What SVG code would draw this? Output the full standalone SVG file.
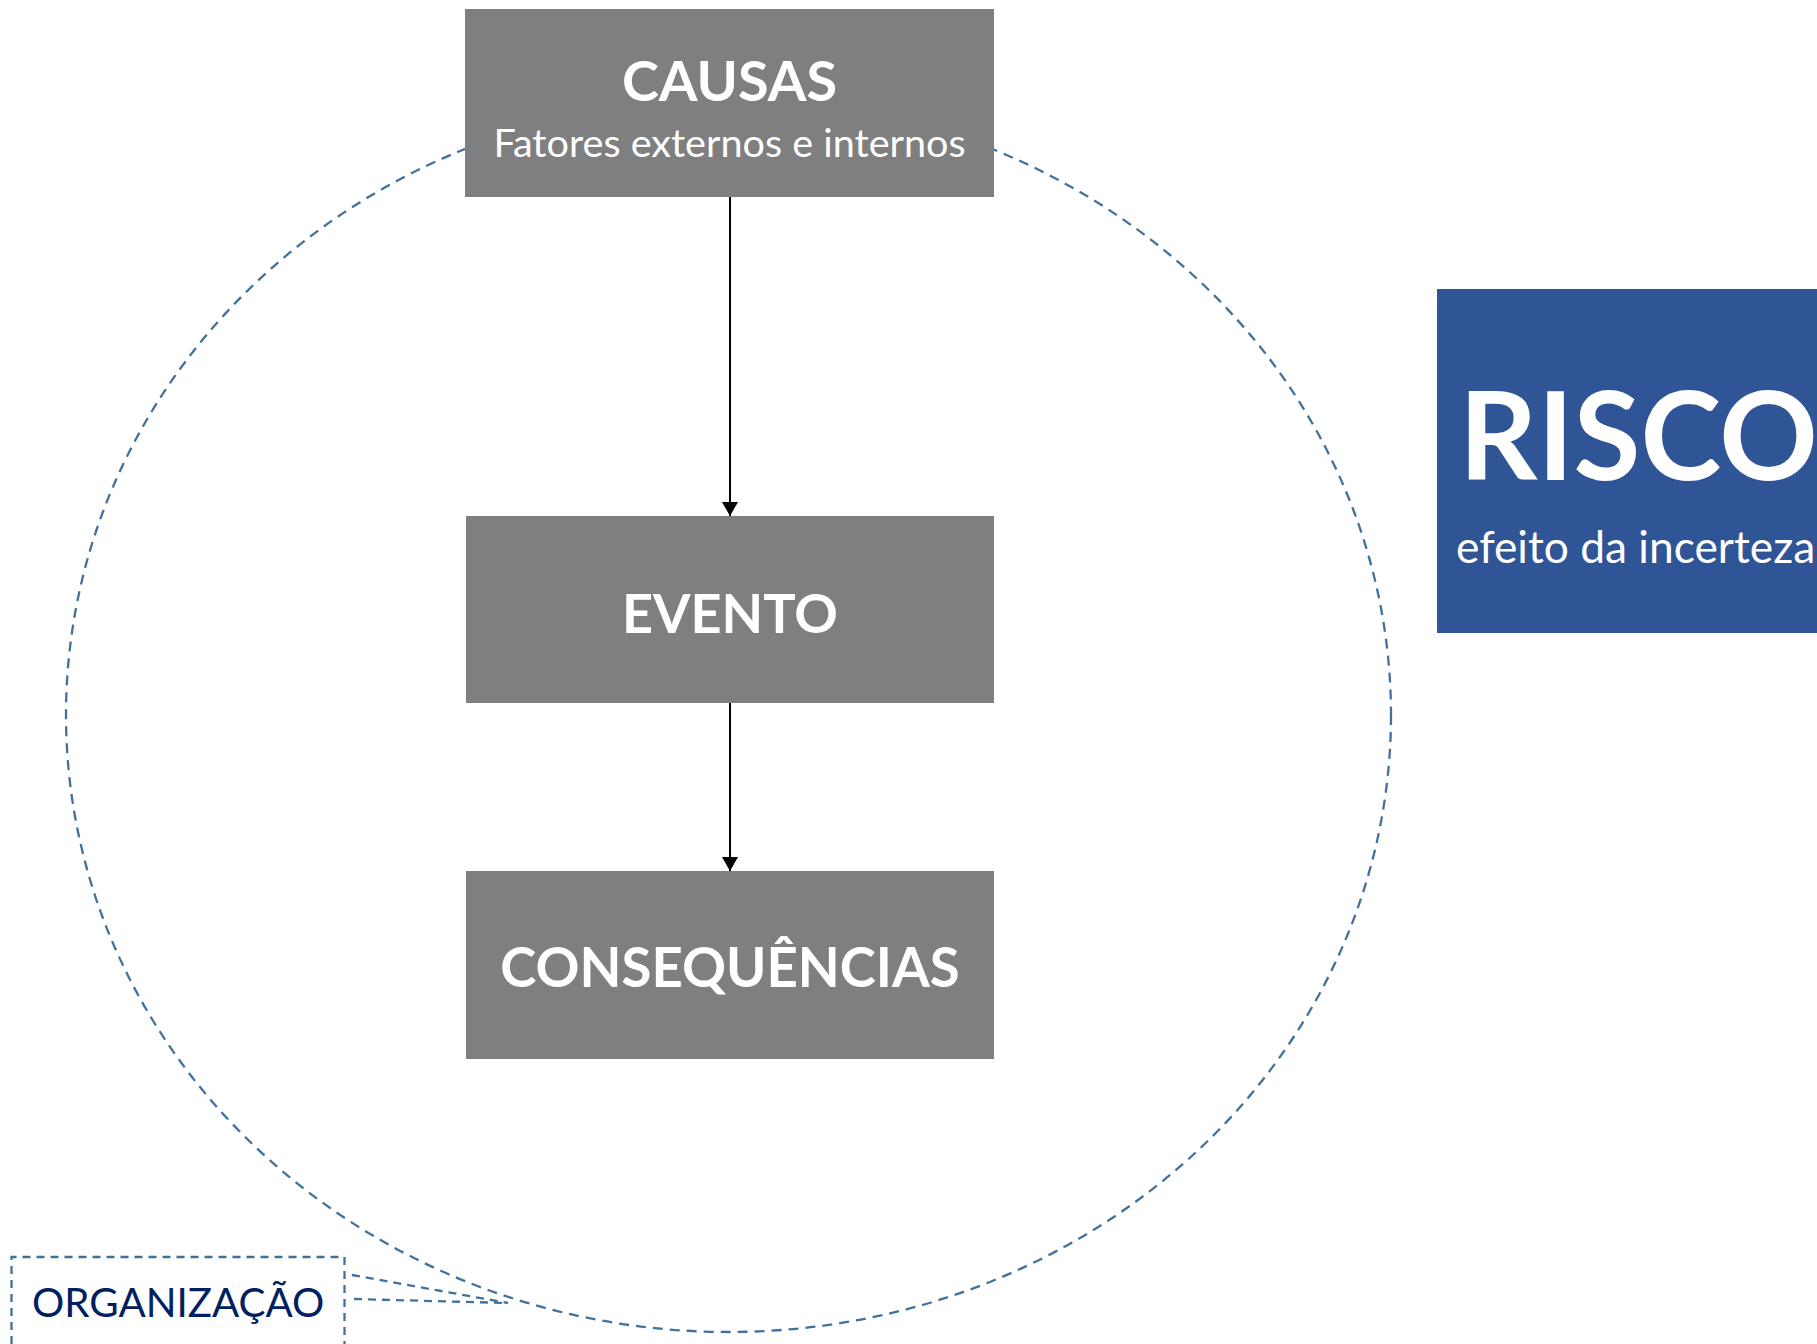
<svg xmlns="http://www.w3.org/2000/svg" width="1817" height="1344" viewBox="0 0 1817 1344">
<defs>
<style>
.box{fill:#7F7F7F}
.hd{font-family:Lato,"Open Sans",sans-serif;font-weight:bold;fill:#fff;text-anchor:middle}
.sub{font-family:Lato,"Open Sans",sans-serif;fill:#fff;text-anchor:middle}
.dash{fill:none;stroke:#41719C;stroke-width:2.3;stroke-dasharray:10 7}
.dash2{fill:none;stroke:#41719C;stroke-width:2.3;stroke-dasharray:8 6}
.conn{stroke:#000;stroke-width:2;fill:none}
</style>
<marker id="arr" viewBox="0 0 14 16" refX="14" refY="8" markerWidth="14" markerHeight="16" markerUnits="userSpaceOnUse" orient="auto">
<path d="M0,0 L14,8 L0,16 z" fill="#000"/>
</marker>
</defs>
<rect width="1817" height="1344" fill="#fff"/>
<g id="organizacao-circle">
<ellipse class="dash" cx="728.5" cy="715" rx="662.5" ry="617"/>
</g>
<g id="connectors">
<line class="conn" x1="730" y1="197" x2="730" y2="516" marker-end="url(#arr)"/>
<line class="conn" x1="730" y1="703" x2="730" y2="871" marker-end="url(#arr)"/>
</g>
<g id="causas">
<rect class="box" x="465" y="9" width="529" height="188"/>
<text class="hd" x="729.5" y="101" font-size="55.8">CAUSAS</text>
<text class="sub" x="729.5" y="157" font-size="39.6">Fatores externos e internos</text>
</g>
<g id="evento">
<rect class="box" x="466" y="516" width="528" height="187"/>
<text class="hd" x="730" y="633" font-size="54">EVENTO</text>
</g>
<g id="consequencias">
<rect class="box" x="466" y="871" width="528" height="188"/>
<text class="hd" x="730" y="987" font-size="54.5">CONSEQUÊNCIAS</text>
</g>
<g id="risco">
<rect x="1437" y="289" width="380" height="344" fill="#2F5597"/>
<text x="1459" y="480" font-family="Lato,'Open Sans',sans-serif" font-weight="bold" font-size="122" fill="#fff">RISCO</text>
<text x="1456" y="563" font-family="Lato,'Open Sans',sans-serif" font-size="44.3" fill="#fff">efeito da incerteza</text>
</g>
<g id="organizacao">
<path class="dash2" d="M11.5,1344 V1257 H344.5 V1344"/>
<path class="dash2" d="M352,1275 L508,1303 M354,1299 L508,1303"/>
<text x="32" y="1317" font-family="Lato,'Open Sans',sans-serif" font-size="40.3" fill="#002060">ORGANIZAÇÃO</text>
</g>
</svg>
